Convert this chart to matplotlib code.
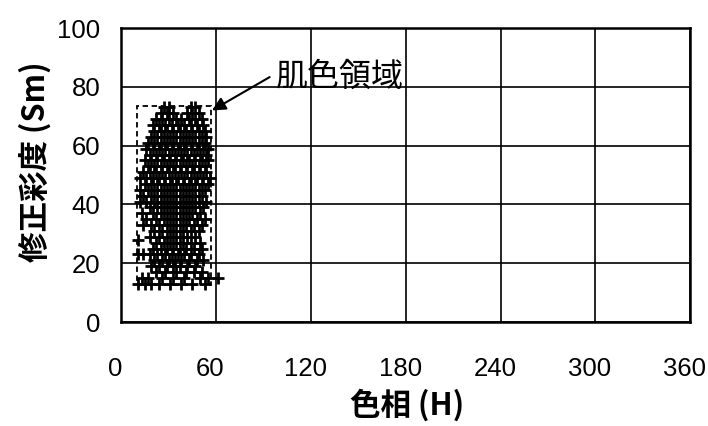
"""
Skin-colour region in the hue / corrected-saturation plane.
"""

import numpy as np
import matplotlib
matplotlib.use("Agg")
import matplotlib.pyplot as plt
from matplotlib.patches import Rectangle
from matplotlib.transforms import ScaledTranslation


# ── data ──────────────────────────────────────────────────────────────────────

x_ticks = [0, 60, 120, 180, 240, 300, 360]
y_ticks = [0, 20, 40, 60, 80, 100]

# saturation band -> hue values of the "+" samples in that band
sat_bands = [73, 71, 69, 67, 65, 63, 61, 59, 57, 55, 53, 51, 49, 47, 45,
             43, 41, 39, 37, 35, 33, 31, 29, 28, 27, 25, 23, 21, 19, 17,
             15, 13]
hue_bands = [
    [27, 30, 44, 47],
    [25, 29, 33, 42, 45, 49],
    [22, 26, 30, 35, 38, 43, 47, 51],
    [20, 24, 28, 32, 36, 40, 44, 48, 52],
    [21, 25, 29, 33, 37, 41, 45, 49, 53],
    [19, 23, 27, 31, 35, 39, 43, 47, 51, 54],
    [17, 21, 25, 29, 33, 37, 41, 45, 49, 53],
    [16, 20, 24, 28, 32, 36, 40, 44, 48, 52, 55],
    [18, 22, 26, 30, 34, 38, 42, 46, 50, 54],
    [15, 19, 23, 27, 31, 35, 39, 43, 47, 51, 55],
    [17, 21, 25, 29, 33, 37, 41, 45, 49, 53],
    [14, 18, 22, 26, 30, 34, 38, 42, 46, 50, 54],
    [12, 16, 20, 24, 28, 32, 36, 40, 44, 48, 52, 56],
    [15, 19, 23, 27, 31, 35, 39, 43, 47, 51, 55],
    [12, 17, 21, 25, 29, 33, 37, 41, 45, 49, 53],
    [14, 19, 23, 27, 31, 35, 39, 43, 47, 51],
    [12, 16, 21, 25, 29, 33, 37, 41, 45, 49, 54],
    [18, 23, 27, 31, 35, 39, 43, 47, 52],
    [13, 20, 25, 29, 33, 37, 41, 45, 50],
    [16, 22, 27, 31, 35, 39, 43, 48, 53],
    [14, 19, 24, 29, 33, 37, 41, 46, 51],
    [21, 26, 31, 35, 39, 44, 49],
    [18, 24, 29, 33, 37, 42, 47],
    [11],
    [22, 27, 31, 35, 39, 44, 50],
    [20, 25, 29, 33, 37, 41, 46, 51],
    [11, 14, 18, 23, 28, 32, 36, 40, 44, 49],
    [21, 26, 30, 34, 38, 43, 48, 52],
    [19, 24, 29, 33, 37, 42, 47],
    [22, 28, 35, 41, 46, 51],
    [13, 17, 26, 33, 40, 50, 55, 61],
    [11, 15, 19, 24, 31, 38, 45, 53],
]

# dashed skin-colour box: hue range, saturation range
box_hue = (10, 57)
box_sat = (12.5, 73.5)

label_text = "肌色領域"
label_xy   = (98, 83.5)    # left edge of the label text
arrow_tip  = (57.5, 72)


# ── plot ──────────────────────────────────────────────────────────────────────

cjk  = ["Noto Sans CJK JP", "DejaVu Sans"]
nums = ["Liberation Sans", "DejaVu Sans"]

hue = np.concatenate([np.asarray(h, float) for h in hue_bands])
sat = np.concatenate([np.full(len(h), s, float) for h, s in zip(hue_bands, sat_bands)])

fig = plt.figure(figsize=(7.08, 4.26), dpi=100)
ax  = fig.add_axes([0.171, 0.244, 0.804, 0.690])

ax.plot(hue, sat, linestyle="none", marker="+", markersize=9,
        markeredgewidth=2.0, color="black", zorder=3)

ax.add_patch(Rectangle((box_hue[0], box_sat[0]), box_hue[1] - box_hue[0],
                       box_sat[1] - box_sat[0], fill=False, edgecolor="black",
                       linestyle=(0, (3, 2)), linewidth=1.3, zorder=4))

ax.annotate(label_text, xy=arrow_tip, xytext=label_xy,
            fontsize=23, family=cjk, ha="left", va="center",
            arrowprops=dict(arrowstyle="-|>", color="black", lw=1.5,
                            mutation_scale=20, shrinkA=3, shrinkB=0,
                            relpos=(0.0, 0.6)),
            zorder=5)

ax.set_xlim(0, 360)
ax.set_ylim(0, 100)
ax.set_xticks(x_ticks)
ax.set_yticks(y_ticks)
ax.grid(True, color="black", linewidth=1.2)
ax.set_axisbelow(True)
for sp in ax.spines.values():
    sp.set_linewidth(1.8)

ax.tick_params(axis="both", length=0, labelsize=18.5)
ax.tick_params(axis="x", pad=25)
ax.tick_params(axis="y", pad=15)
shift = ScaledTranslation(-4 / 72, 0, fig.dpi_scale_trans)
for lab in ax.get_xticklabels():
    lab.set_family(nums)
    lab.set_transform(lab.get_transform() + shift)
for lab in ax.get_yticklabels():
    lab.set_family(nums)

fig.text(0.575, 1 - 405 / 426, "色相 (H)", family=cjk, fontsize=22,
         fontweight="bold", ha="center", va="center")
fig.text(0.050, 1 - 162 / 426, "修正彩度 (Sm)", family=cjk, fontsize=22,
         fontweight="bold", ha="center", va="center", rotation=90)

fig.savefig("out.png", dpi=100)
